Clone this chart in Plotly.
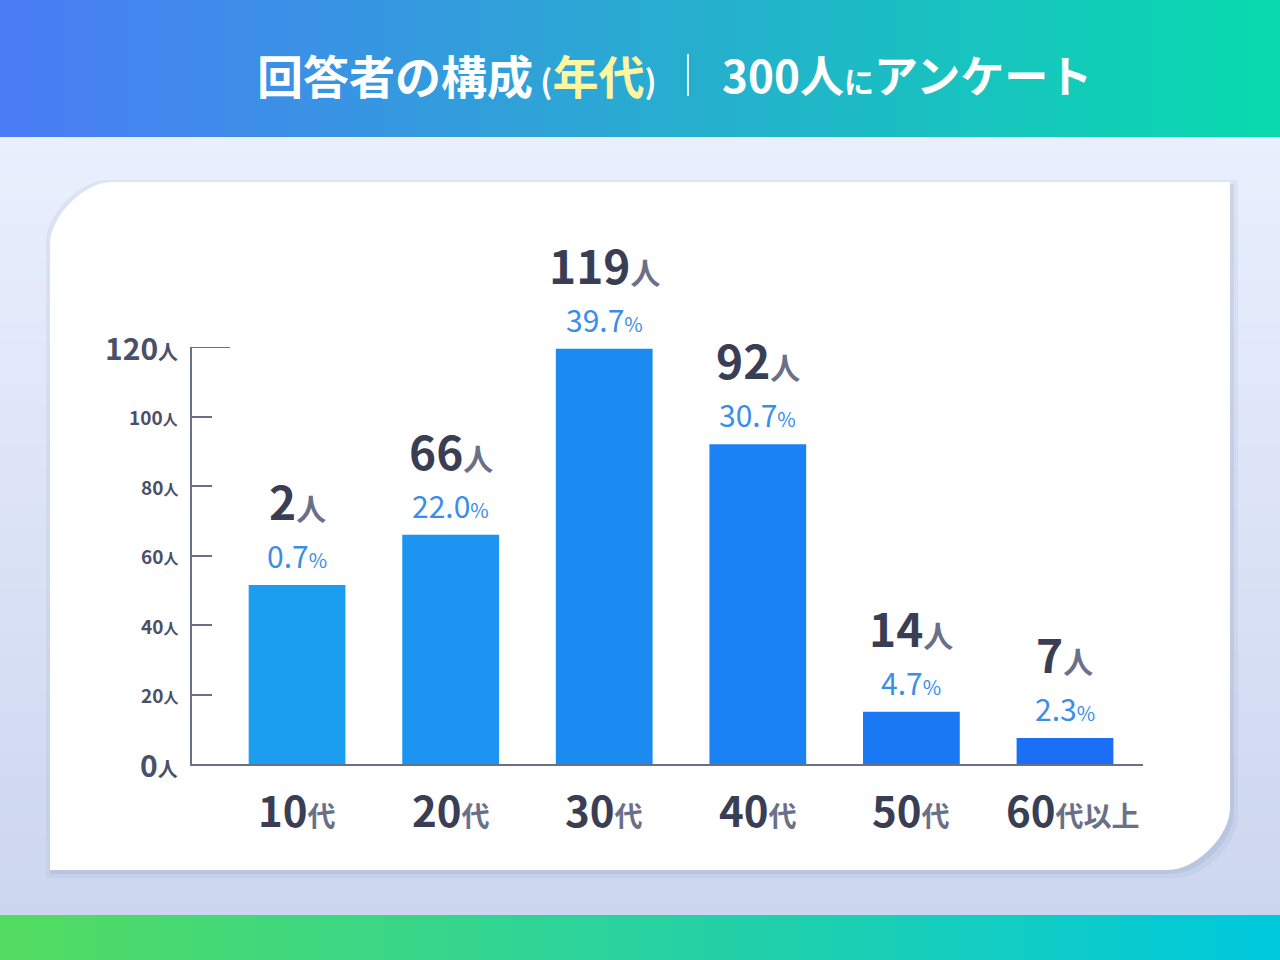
import numpy as np
import plotly.graph_objects as go

W, H = 1280, 960
FONT = "Noto Sans CJK JP"

# data
categories = ["10代", "20代", "30代", "40代", "50代", "60代以上"]
cat_nums = ["10", "20", "30", "40", "50", "60"]
cat_suffix = ["代", "代", "代", "代", "代", "代以上"]
bar_heights = [51.5, 66, 119.5, 92, 15, 7.5]   # heights as drawn in the picture
people = [2, 66, 119, 92, 14, 7]
percents = ["0.7", "22.0", "39.7", "30.7", "4.7", "2.3"]
y_ticks = [0, 20, 40, 60, 80, 100, 120]


def px(x):
    return x / W


def py(y):
    return 1 - y / H


def lerp(c1, c2, t):
    a = [int(c1[i:i + 2], 16) for i in (1, 3, 5)]
    b = [int(c2[i:i + 2], 16) for i in (1, 3, 5)]
    return "rgb(%d,%d,%d)" % tuple(round(a[k] + (b[k] - a[k]) * t) for k in range(3))


shapes = []
# page background (vertical gradient)
n = 40
for i in range(n):
    y0 = 137 + (H - 137) * i / n
    y1 = 137 + (H - 137) * (i + 1) / n + 1
    shapes.append(dict(type="rect", xref="paper", yref="paper", x0=0, x1=1,
                       y0=py(y1), y1=py(y0), line_width=0, layer="below",
                       fillcolor=lerp("#e9effd", "#cbd5ee", i / (n - 1))))
# header gradient
for i in range(n):
    x0 = W * i / n
    x1 = W * (i + 1) / n + 1
    shapes.append(dict(type="rect", xref="paper", yref="paper", x0=px(x0), x1=px(x1),
                       y0=py(137), y1=1, line_width=0, layer="below",
                       fillcolor=lerp("#4a7cf6", "#08d9ae", i / (n - 1))))
# footer gradient
for i in range(n):
    x0 = W * i / n
    x1 = W * (i + 1) / n + 1
    shapes.append(dict(type="rect", xref="paper", yref="paper", x0=px(x0), x1=px(x1),
                       y0=0, y1=py(915), line_width=0, layer="below",
                       fillcolor=lerp("#52dc62", "#00c9dc", i / (n - 1))))


def card_path(l, t, r, b, rad):
    k = 0.45 * rad
    pts = [
        f"M {px(l)},{py(t + rad)}",
        f"C {px(l)},{py(t + rad - k)} {px(l + rad - k)},{py(t)} {px(l + rad)},{py(t)}",
        f"L {px(r)},{py(t)}",
        f"L {px(r)},{py(b - rad)}",
        f"C {px(r)},{py(b - rad + k)} {px(r - rad + k)},{py(b)} {px(r - rad)},{py(b)}",
        f"L {px(l)},{py(b)} Z",
    ]
    return " ".join(pts)


# shadow then card
for off, col in [(8, "rgba(120,135,180,0.10)"), (4, "rgba(120,135,180,0.15)")]:
    shapes.append(dict(type="path", xref="paper", yref="paper", layer="below",
                       path=card_path(50 - off + 4, 182 - off + 6, 1230 + off, 870 + off, 62),
                       fillcolor=col, line_width=0))
shapes.append(dict(type="path", xref="paper", yref="paper", layer="below",
                   path=card_path(50, 182, 1230, 870, 62), fillcolor="white", line_width=0))
# header divider
shapes.append(dict(type="line", xref="paper", yref="paper", x0=px(688), x1=px(688),
                   y0=py(96), y1=py(54), line=dict(color="rgba(255,255,255,0.85)", width=2)))
# long top tick
shapes.append(dict(type="line", xref="paper", yref="y", x0=px(192), x1=px(230),
                   y0=120, y1=120, line=dict(color="#6b7088", width=2)))

fig = go.Figure()
bar_colors = [lerp("#1b9ef0", "#1a6ff6", i / 5) for i in range(6)]
fig.add_trace(go.Bar(x=list(range(6)), y=bar_heights, marker=dict(color=bar_colors, line_width=0),
                     width=0.63, hoverinfo="skip"))

ann = []
ann.append(dict(xref="paper", yref="paper", x=px(658), y=py(74), showarrow=False,
                xanchor="right", yanchor="middle",
                text="<b>回答者の構成<span style='font-size:32px'> (</span><span style='color:#fff7a0'>年代</span>"
                     "<span style='font-size:32px'>)</span></b>",
                font=dict(family=FONT, size=46, color="white")))
ann.append(dict(xref="paper", yref="paper", x=px(720), y=py(74), showarrow=False,
                xanchor="left", yanchor="middle",
                text="<b>300人<span style='font-size:30px'>に</span>アンケート</b>",
                font=dict(family=FONT, size=44, color="white")))
for i in range(6):
    top = bar_heights[i]
    ann.append(dict(x=i, y=top, yshift=50, showarrow=False, xanchor="center", yanchor="bottom",
                    text=f"<b>{people[i]}</b><span style='font-size:30px;color:#6b7088'><b>人</b></span>",
                    font=dict(family=FONT, size=46, color="#3a3e55")))
    ann.append(dict(x=i, y=top, yshift=6, showarrow=False, xanchor="center", yanchor="bottom",
                    text=f"{percents[i]}<span style='font-size:20px'>%</span>",
                    font=dict(family=FONT, size=30, color="#3a8ee8")))
    ann.append(dict(x=i, xshift=0 if i < 5 else 8, yref="paper", y=py(808), yanchor="middle",
                    showarrow=False,
                    text=f"<b>{cat_nums[i]}</b><span style='font-size:28px;color:#6b7088'><b>{cat_suffix[i]}</b></span>",
                    font=dict(family=FONT, size=42, color="#3a3e55")))
for t in y_ticks:
    big = t in (0, 120)
    ann.append(dict(xref="paper", x=px(180), y=t, xanchor="right", yanchor="middle", showarrow=False,
                    text=f"<b>{t}</b><span style='font-size:{20 if big else 15}px'><b>人</b></span>",
                    font=dict(family=FONT, size=30 if big else 19, color="#4a5068")))

fig.update_layout(
    width=W, height=H, margin=dict(l=0, r=0, t=0, b=0),
    paper_bgcolor="white", plot_bgcolor="rgba(0,0,0,0)",
    showlegend=False, shapes=shapes, annotations=ann,
    xaxis=dict(domain=[px(192), px(1143)], range=[-0.684, 5.508], showticklabels=False,
               showgrid=False, zeroline=False, showline=True, linecolor="#6b7088", linewidth=2,
               fixedrange=True),
    yaxis=dict(domain=[py(764), py(347)], range=[0, 120], tickvals=y_ticks[1:-1],
               showticklabels=False, ticks="inside", ticklen=20, tickcolor="#6b7088", tickwidth=2,
               showgrid=False, zeroline=False, showline=True, linecolor="#6b7088", linewidth=2,
               fixedrange=True),
)
fig.write_html("out.html", config={"displayModeBar": False},
               post_script="document.body.style.margin='0';")
